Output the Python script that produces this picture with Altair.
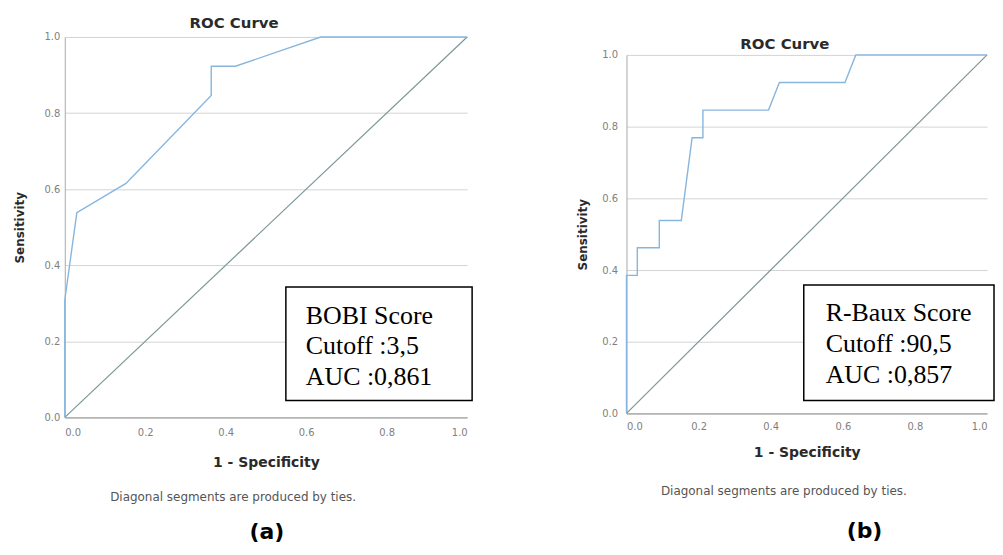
import altair as alt
import pandas as pd

# ---- data ----
left_fpr = [0.0, 0.0, 0.030, 0.152, 0.364, 0.364, 0.424, 0.636, 1.0]
left_tpr = [0.0, 0.308, 0.538, 0.615, 0.846, 0.923, 0.923, 1.0, 1.0]
right_fpr = [0.0, 0.0, 0.030, 0.030, 0.091, 0.091, 0.152, 0.182, 0.212, 0.212,
             0.394, 0.424, 0.606, 0.636, 1.0]
right_tpr = [0.0, 0.385, 0.385, 0.462, 0.462, 0.538, 0.538, 0.769, 0.769, 0.846,
             0.846, 0.923, 0.923, 1.0, 1.0]
diag_x = [0.0, 1.0]
diag_y = [0.0, 1.0]
ticks = [0.0, 0.2, 0.4, 0.6, 0.8, 1.0]
left_box = ["BOBI Score", "Cutoff :3,5", "AUC :0,861"]
right_box = ["R-Baux Score", "Cutoff :90,5", "AUC :0,857"]
title_text = "ROC Curve"
x_title = "1 - Specificity"
y_title = "Sensitivity"
footnote = "Diagonal segments are produced by ties."
panel_labels = ["(a)", "(b)"]

ROC_COLOR = "#86b6de"
DIAG_COLOR = "#7d9696"
SANS = "DejaVu Sans"


def panel(fpr, tpr, box_lines, label, W, H, yrange, lay):
    roc_df = pd.DataFrame({"fpr": fpr, "tpr": tpr, "i": list(range(len(fpr)))})
    diag_df = pd.DataFrame({"fpr": diag_x, "tpr": diag_y})
    one = pd.DataFrame({"k": [0]})

    xscale = alt.Scale(domain=[0, 1], nice=False)
    if yrange:
        yscale = alt.Scale(domain=[0, 1], nice=False, range=yrange)
    else:
        yscale = alt.Scale(domain=[0, 1], nice=False)

    xaxis = alt.Axis(values=ticks, format=".1f", title=x_title, grid=False,
                     ticks=False, tickSize=0, domainColor="#8f8f8f",
                     labelPadding=lay["xlp"], titlePadding=lay["xtp"],
                     titleFontSize=14, titleFont=SANS, titleFontWeight="bold",
                     titleColor="#2a2a2a", labelFont=SANS, labelFontSize=10,
                     labelColor="#808080")
    yaxis = alt.Axis(values=ticks, format=".1f", title=y_title, grid=True,
                     gridColor="#d4d4d4", ticks=False, tickSize=0,
                     domainColor="#a8a8a8",
                     labelPadding=lay["ylp"], titlePadding=lay["ytp"],
                     titleFontSize=12, titleFont=SANS, titleFontWeight="bold",
                     titleColor="#2a2a2a", labelFont=SANS, labelFontSize=10,
                     labelColor="#808080")

    X = alt.X("fpr:Q", scale=xscale, axis=xaxis)
    Y = alt.Y("tpr:Q", scale=yscale, axis=yaxis)

    diag = alt.Chart(diag_df).mark_line(color=DIAG_COLOR, strokeWidth=1.2).encode(x=X, y=Y)
    roc = alt.Chart(roc_df).mark_line(color=ROC_COLOR, strokeWidth=1.4).encode(
        x=X, y=Y, order="i:Q")

    box = alt.Chart(one).mark_rect(fill="white", stroke="black", strokeWidth=1.5).encode(
        x=alt.value(lay["bx0"]), x2=alt.value(lay["bx1"]),
        y=alt.value(lay["by0"]), y2=alt.value(lay["by1"]))
    txt = alt.Chart(one).mark_text(font="Liberation Serif", fontSize=26, align="left",
                                   baseline="alphabetic", lineHeight=lay["lh"],
                                   color="black").encode(
        x=alt.value(lay["tx"]), y=alt.value(lay["ty"]), text=alt.value(box_lines))
    ttl = alt.Chart(one).mark_text(font=SANS, fontWeight="bold", fontSize=15,
                                   color="#2a2a2a", baseline="middle").encode(
        x=alt.value(lay["tix"]), y=alt.value(lay["tiy"]), text=alt.value(title_text))
    foot = alt.Chart(one).mark_text(font=SANS, fontSize=12, color="#555555",
                                    baseline="middle").encode(
        x=alt.value(lay["fx"]), y=alt.value(lay["fy"]), text=alt.value(footnote))
    lab = alt.Chart(one).mark_text(font=SANS, fontWeight="bold", fontSize=22,
                                   color="black", baseline="middle").encode(
        x=alt.value(lay["lx"]), y=alt.value(lay["ly"]), text=alt.value(label))

    return alt.layer(diag, roc, box, txt, ttl, foot, lab).properties(width=W, height=H)


left_layout = dict(xlp=10, xtp=18, ylp=5, ytp=18,
                   bx0=222, bx1=409, by0=251, by1=365,
                   tx=242, ty=288, lh=30.5,
                   tix=170, tiy=-14, fx=169, fy=462, lx=203, ly=497)
right_layout = dict(xlp=8, xtp=14, ylp=9, ytp=12,
                    bx0=178, bx1=369, by0=249, by1=365,
                    tx=200, ty=285, lh=31,
                    tix=159, tiy=7, fx=158, fy=456, lx=239, ly=496)

left = panel(left_fpr, left_tpr, left_box, panel_labels[0], 404, 382, None, left_layout)
right = panel(right_fpr, right_tpr, right_box, panel_labels[1], 362, 378, [378, 18], right_layout)

chart = alt.hconcat(left, right, spacing=104).properties(
    padding={"left": 5, "top": 7, "right": 0, "bottom": 0},
    background="white",
).configure_view(stroke=None)

chart.save("out.html", embed_options={"renderer": "svg", "actions": False})
